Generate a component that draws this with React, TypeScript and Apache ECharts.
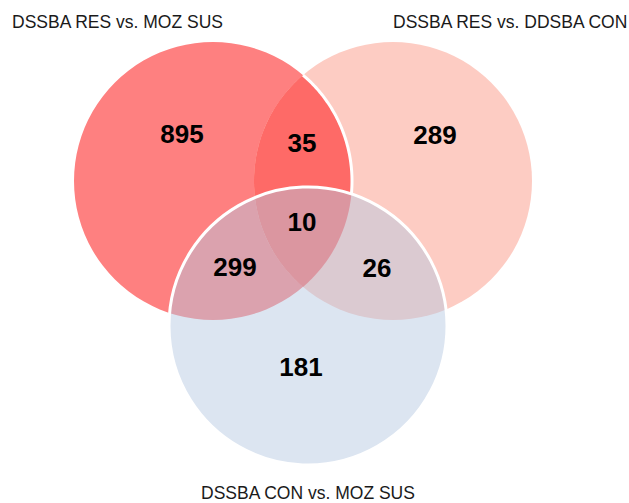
import React, { useEffect, useRef } from "react";
import * as echarts from "echarts";

// ---- data ----
const setNames = ["DSSBA RES vs. MOZ SUS", "DSSBA RES vs. DDSBA CON", "DSSBA CON vs. MOZ SUS"];
const regionKeys = ["A", "B", "C", "AB", "AC", "BC", "ABC"];
const regionCounts = [895, 289, 181, 35, 299, 26, 10];

// ---- layout (units of the hidden axis space = pixels) ----
const circleCenters = [
  [213, 181],
  [393, 181],
  [308, 326],
];
const circleRadius = 139;
const labelPositions = [
  [182, 134],
  [435, 135],
  [301, 367],
  [302, 143],
  [235, 267],
  [377, 268],
  [302, 222],
];
const titlePositions = [
  [12, 13],
  [393, 13],
  [201, 484],
];
const circleFills = ["#FE8080", "#FDCCC3", "rgba(181,200,225,0.47)"];
const lensFill = "#FE6A67";
const drawOrder = ["circleA", "circleB", "lensAB", "edgeA", "circleC"];
const FONT = "'Liberation Sans', Arial, Helvetica, sans-serif";

function arc(c: number[], r: number, a0: number, a1: number, n: number) {
  const pts: number[][] = [];
  for (let k = 0; k <= n; k++) {
    const a = a0 + ((a1 - a0) * k) / n;
    pts.push([c[0] + r * Math.cos(a), c[1] + r * Math.sin(a)]);
  }
  return pts;
}

function lens(P: number[], Q: number[], r: number) {
  const dx = Q[0] - P[0];
  const dy = Q[1] - P[1];
  const d = Math.hypot(dx, dy);
  const phi = Math.atan2(dy, dx);
  const th = Math.acos(d / 2 / r);
  const a = arc(P, r, phi - th, phi + th, 80);
  const b = arc(Q, r, phi + Math.PI - th, phi + Math.PI + th, 80);
  return a.concat(b);
}

function edgeA() {
  const A = circleCenters[0];
  const B = circleCenters[1];
  const C = circleCenters[2];
  const d = Math.hypot(B[0] - A[0], B[1] - A[1]);
  const phi = Math.atan2(B[1] - A[1], B[0] - A[0]);
  const th = Math.acos(d / 2 / circleRadius);
  return arc(A, circleRadius, phi - th, phi + th, 160).filter(
    (p) => Math.hypot(p[0] - C[0], p[1] - C[1]) > circleRadius
  );
}

export default function App() {
  const ref = useRef<HTMLDivElement>(null);
  useEffect(() => {
    document.body.style.margin = "0";
    const chart = echarts.init(ref.current!, undefined, { renderer: "svg" });
    const renderItem = (params: any, api: any) => {
      const kind = drawOrder[params.dataIndex];
      const map = (pts: number[][]) => pts.map((p) => api.coord(p));
      const rPx = (c: number[]) => api.coord([c[0] + circleRadius, c[1]])[0] - api.coord(c)[0];
      if (kind.startsWith("circle")) {
        const idx = "ABC".indexOf(kind.slice(6));
        const c = circleCenters[idx];
        const p = api.coord(c);
        return {
          type: "circle",
          shape: { cx: p[0], cy: p[1], r: rPx(c) },
          style: {
            fill: circleFills[idx],
            stroke: idx === 2 ? "#ffffff" : "none",
            lineWidth: idx === 2 ? 3 : 0,
          },
        };
      }
      if (kind === "lensAB") {
        return {
          type: "polygon",
          shape: { points: map(lens(circleCenters[0], circleCenters[1], circleRadius)) },
          style: { fill: lensFill },
        };
      }
      return {
        type: "polyline",
        shape: { points: map(edgeA()) },
        style: { fill: "none", stroke: "#ffffff", lineWidth: 3 },
      };
    };
    const renderLabel = (params: any, api: any) => {
      const p = api.coord([api.value(0), api.value(1)]);
      return {
        type: "text",
        x: p[0],
        y: p[1],
        style: {
          text: String(api.value(2)),
          fill: "#000000",
          font: `bold 26px ${FONT}`,
          align: "center",
          verticalAlign: "middle",
        },
      };
    };
    chart.setOption({
      animation: false,
      grid: { left: 0, right: 0, top: 0, bottom: 0, containLabel: false },
      xAxis: { type: "value", min: 0, max: 629, show: false },
      yAxis: { type: "value", min: 0, max: 503, inverse: true, show: false },
      title: setNames.map((t, i) => ({
        text: t,
        left: titlePositions[i][0],
        top: titlePositions[i][1],
        padding: 0,
        textStyle: {
          fontSize: 17.5,
          fontWeight: "normal",
          color: "#1a1a1a",
          fontFamily: FONT,
          lineHeight: 18,
        },
      })),
      series: [
        {
          type: "custom",
          coordinateSystem: "cartesian2d",
          data: drawOrder.map((_, i) => [i, 0]),
          encode: { x: 0, y: 1 },
          renderItem,
          clip: false,
          silent: true,
        },
        {
          type: "custom",
          coordinateSystem: "cartesian2d",
          data: regionKeys.map((k, i) => ({
            name: k,
            value: [labelPositions[i][0], labelPositions[i][1], regionCounts[i]],
          })),
          encode: { x: 0, y: 1 },
          renderItem: renderLabel,
          clip: false,
          silent: true,
        },
      ],
    });
    return () => chart.dispose();
  }, []);
  return <div ref={ref} style={{ width: 629, height: 503 }} />;
}
